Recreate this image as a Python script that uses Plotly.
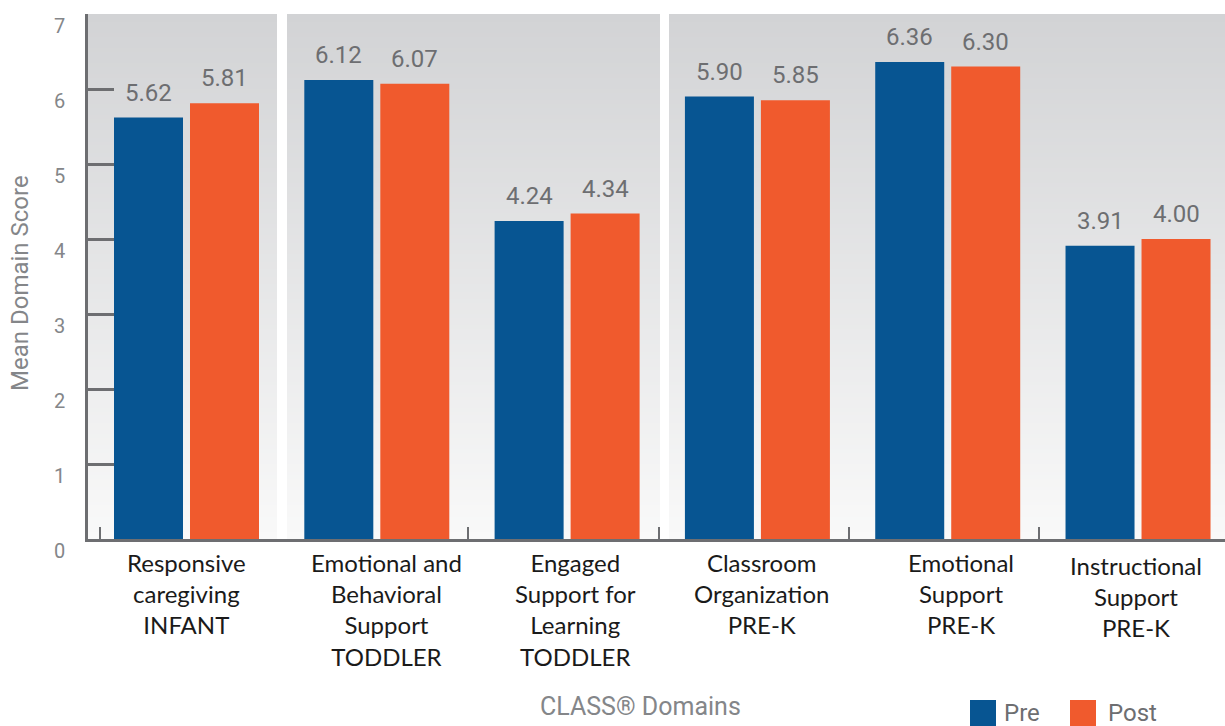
import plotly.graph_objects as go

# --- data -------------------------------------------------------------
categories = [
    "Responsive<br>caregiving<br>INFANT",
    "Emotional and<br>Behavioral<br>Support<br>TODDLER",
    "Engaged<br>Support for<br>Learning<br>TODDLER",
    "Classroom<br>Organization<br>PRE-K",
    "Emotional<br>Support<br>PRE-K",
    "Instructional<br>Support<br>PRE-K",
]
pre_scores = [5.62, 6.12, 4.24, 5.90, 6.36, 3.91]
post_scores = [5.81, 6.07, 4.34, 5.85, 6.30, 4.00]
y_ticks = [0, 1, 2, 3, 4, 5, 6, 7]

# --- styling / layout constants ----------------------------------------
W, H = 1225, 726
M_L, M_R, M_T, M_B = 88, 0, 14, 187
PLOT_W = W - M_L - M_R
PLOT_H = H - M_T - M_B

BLUE = "#075592"
ORANGE = "#f05a2d"
AXIS_GRAY = "#6d6e71"
LIGHT_GRAY = "#848689"
LABEL_GRAY = "#6d6e71"

X_RANGE = [-0.5176, 5.457]
BARGAP = 0.2013
BARGROUPGAP = 0.0921

x_pos = list(range(len(categories)))
x_tick_pos = [-0.4545, 1.479, 2.483, 3.481, 4.479]
# panel edges along x: panel, gap, panel, gap, panel
panel_edges = [-0.5176, 0.4756, 0.5281, 2.488, 2.535, 5.6]
label_xshift = [0, 10, 8, 4, 13, -2]
label_yshift = [0, 0, 0, 0, 0, -3]


def px_x(px):
    return (px - M_L) / PLOT_W


def px_y(py):
    return (H - M_B - py) / PLOT_H


fig = go.Figure()

# shaded background panels: a vertical gradient drawn as a heatmap,
# with empty columns leaving the white gaps between panels
n_bands = 140
band_edges = [7 * k / n_bands for k in range(n_bands + 1)]
band_z = []
for k in range(n_bands):
    yc = (band_edges[k] + band_edges[k + 1]) / 2
    band_z.append([yc, None, yc, None, yc])

fig.add_trace(go.Heatmap(
    x=panel_edges,
    y=band_edges,
    z=band_z,
    zmin=0, zmax=7,
    colorscale=[[0, "#f9f9f9"], [1, "#d2d3d5"]],
    showscale=False,
    hoverinfo="skip",
))

fig.add_trace(go.Bar(x=x_pos, y=pre_scores, name="Pre",
                     marker=dict(color=BLUE, line=dict(width=0)),
                     showlegend=False, hoverinfo="skip"))
fig.add_trace(go.Bar(x=x_pos, y=post_scores, name="Post",
                     marker=dict(color=ORANGE, line=dict(width=0)),
                     showlegend=False, hoverinfo="skip"))

annotations = []

# value labels above each bar
half_slot = (1 - BARGAP) / 4
for i, (a, b) in enumerate(zip(pre_scores, post_scores)):
    for xc, v in ((i - half_slot, a), (i + half_slot, b)):
        annotations.append(dict(
            x=xc, y=v, xref="x", yref="y", text=f"{v:.2f}",
            showarrow=False, yanchor="bottom", xanchor="center", yshift=9,
            font=dict(family="Roboto", size=24, color=LABEL_GRAY),
        ))

# category labels under the axis
for i, cat in enumerate(categories):
    annotations.append(dict(
        x=x_pos[i], y=0, xref="x", yref="y", text=cat,
        showarrow=False, yanchor="top", xanchor="center",
        xshift=label_xshift[i], yshift=-7 + label_yshift[i],
        font=dict(family="Lato", size=24, color="#1a1a1a"),
    ))

# axis titles
annotations.append(dict(
    x=px_x(20), y=px_y(283), xref="paper", yref="paper",
    text="Mean Domain Score", textangle=-90, showarrow=False,
    xanchor="center", yanchor="middle",
    font=dict(family="Roboto", size=24, color=LIGHT_GRAY),
))
annotations.append(dict(
    x=px_x(640), y=px_y(706), xref="paper", yref="paper",
    text="CLASS® Domains", showarrow=False,
    xanchor="center", yanchor="middle",
    font=dict(family="Roboto", size=25, color=LIGHT_GRAY),
))

# legend swatches and names
shapes = []
for name, color, sx, tx in (("Pre", BLUE, 970, 1002), ("Post", ORANGE, 1070, 1106)):
    shapes.append(dict(
        type="rect", xref="paper", yref="paper",
        x0=px_x(sx), x1=px_x(sx + 26), y0=px_y(726), y1=px_y(700),
        fillcolor=color, line=dict(width=0),
    ))
    annotations.append(dict(
        x=px_x(tx), y=px_y(713), xref="paper", yref="paper",
        text=name, showarrow=False, xanchor="left", yanchor="middle",
        font=dict(family="Roboto", size=24, color=LABEL_GRAY),
    ))

fig.update_layout(
    width=W, height=H,
    margin=dict(l=M_L, r=M_R, t=M_T, b=M_B, pad=0),
    paper_bgcolor="white",
    plot_bgcolor="white",
    barmode="group",
    bargap=BARGAP,
    bargroupgap=BARGROUPGAP,
    showlegend=False,
    annotations=annotations,
    shapes=shapes,
    xaxis=dict(
        range=X_RANGE,
        tickvals=x_tick_pos,
        showticklabels=False,
        ticks="inside", ticklen=12, tickwidth=2, tickcolor=AXIS_GRAY,
        showline=True, linecolor=AXIS_GRAY, linewidth=2.5,
        showgrid=False, zeroline=False, fixedrange=True,
    ),
    yaxis=dict(
        range=[0, 7],
        tickvals=y_ticks,
        ticks="inside", ticklen=26, tickwidth=2.5, tickcolor=AXIS_GRAY,
        showline=True, linecolor=AXIS_GRAY, linewidth=2.5,
        showgrid=False, zeroline=False, fixedrange=True,
        tickfont=dict(family="Roboto", size=20, color=LIGHT_GRAY),
        ticklabelshift=12,
        ticklabelstandoff=16,
    ),
)

fig.write_html("out.html", config={"displayModeBar": False})
